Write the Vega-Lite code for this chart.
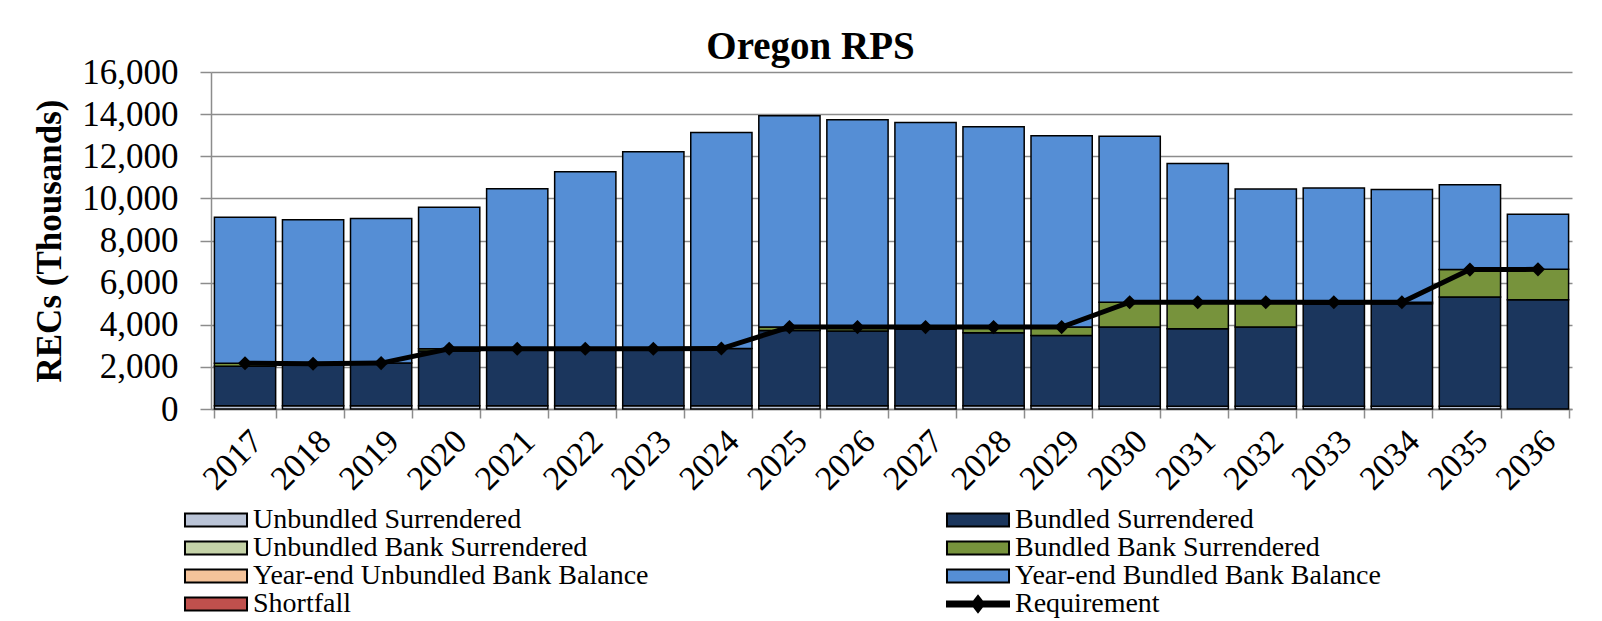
{
  "$schema": "https://vega.github.io/schema/vega-lite/v6.json",
  "width": 1361,
  "height": 337,
  "autosize": {"type": "none"},
  "padding": {"left": 211, "top": 72, "right": 30, "bottom": 212},
  "background": "white",
  "config": {"font": "Liberation Serif", "view": {"stroke": null}},
  "title": {
    "text": "Oregon RPS",
    "font": "Liberation Serif",
    "fontSize": 39,
    "fontWeight": "bold",
    "color": "black",
    "anchor": "middle",
    "frame": "group",
    "dx": -81,
    "dy": 12,
    "offset": 0
  },
  "data": {
    "values": [
      {"year": "2017", "series": "Unbundled Surrendered", "value": 150},
      {"year": "2017", "series": "Bundled Surrendered", "value": 1880},
      {"year": "2017", "series": "Bundled Bank Surrendered", "value": 140},
      {"year": "2017", "series": "Year-end Bundled Bank Balance", "value": 6930},
      {"year": "2017", "series": "Requirement", "value": 2170},
      {"year": "2018", "series": "Unbundled Surrendered", "value": 150},
      {"year": "2018", "series": "Bundled Surrendered", "value": 1930},
      {"year": "2018", "series": "Bundled Bank Surrendered", "value": 70},
      {"year": "2018", "series": "Year-end Bundled Bank Balance", "value": 6840},
      {"year": "2018", "series": "Requirement", "value": 2150},
      {"year": "2019", "series": "Unbundled Surrendered", "value": 150},
      {"year": "2019", "series": "Bundled Surrendered", "value": 2030},
      {"year": "2019", "series": "Year-end Bundled Bank Balance", "value": 6870},
      {"year": "2019", "series": "Requirement", "value": 2180},
      {"year": "2020", "series": "Unbundled Surrendered", "value": 150},
      {"year": "2020", "series": "Bundled Surrendered", "value": 2600},
      {"year": "2020", "series": "Bundled Bank Surrendered", "value": 110},
      {"year": "2020", "series": "Year-end Bundled Bank Balance", "value": 6720},
      {"year": "2020", "series": "Requirement", "value": 2860},
      {"year": "2021", "series": "Unbundled Surrendered", "value": 150},
      {"year": "2021", "series": "Bundled Surrendered", "value": 2660},
      {"year": "2021", "series": "Bundled Bank Surrendered", "value": 50},
      {"year": "2021", "series": "Year-end Bundled Bank Balance", "value": 7600},
      {"year": "2021", "series": "Requirement", "value": 2860},
      {"year": "2022", "series": "Unbundled Surrendered", "value": 150},
      {"year": "2022", "series": "Bundled Surrendered", "value": 2650},
      {"year": "2022", "series": "Bundled Bank Surrendered", "value": 60},
      {"year": "2022", "series": "Year-end Bundled Bank Balance", "value": 8400},
      {"year": "2022", "series": "Requirement", "value": 2860},
      {"year": "2023", "series": "Unbundled Surrendered", "value": 150},
      {"year": "2023", "series": "Bundled Surrendered", "value": 2650},
      {"year": "2023", "series": "Bundled Bank Surrendered", "value": 60},
      {"year": "2023", "series": "Year-end Bundled Bank Balance", "value": 9350},
      {"year": "2023", "series": "Requirement", "value": 2860},
      {"year": "2024", "series": "Unbundled Surrendered", "value": 150},
      {"year": "2024", "series": "Bundled Surrendered", "value": 2720},
      {"year": "2024", "series": "Year-end Bundled Bank Balance", "value": 10260},
      {"year": "2024", "series": "Requirement", "value": 2870},
      {"year": "2025", "series": "Unbundled Surrendered", "value": 150},
      {"year": "2025", "series": "Bundled Surrendered", "value": 3580},
      {"year": "2025", "series": "Bundled Bank Surrendered", "value": 160},
      {"year": "2025", "series": "Year-end Bundled Bank Balance", "value": 10030},
      {"year": "2025", "series": "Requirement", "value": 3890},
      {"year": "2026", "series": "Unbundled Surrendered", "value": 150},
      {"year": "2026", "series": "Bundled Surrendered", "value": 3550},
      {"year": "2026", "series": "Bundled Bank Surrendered", "value": 190},
      {"year": "2026", "series": "Year-end Bundled Bank Balance", "value": 9840},
      {"year": "2026", "series": "Requirement", "value": 3890},
      {"year": "2027", "series": "Unbundled Surrendered", "value": 150},
      {"year": "2027", "series": "Bundled Surrendered", "value": 3650},
      {"year": "2027", "series": "Bundled Bank Surrendered", "value": 90},
      {"year": "2027", "series": "Year-end Bundled Bank Balance", "value": 9710},
      {"year": "2027", "series": "Requirement", "value": 3890},
      {"year": "2028", "series": "Unbundled Surrendered", "value": 150},
      {"year": "2028", "series": "Bundled Surrendered", "value": 3470},
      {"year": "2028", "series": "Bundled Bank Surrendered", "value": 270},
      {"year": "2028", "series": "Year-end Bundled Bank Balance", "value": 9510},
      {"year": "2028", "series": "Requirement", "value": 3890},
      {"year": "2029", "series": "Unbundled Surrendered", "value": 150},
      {"year": "2029", "series": "Bundled Surrendered", "value": 3340},
      {"year": "2029", "series": "Bundled Bank Surrendered", "value": 400},
      {"year": "2029", "series": "Year-end Bundled Bank Balance", "value": 9080},
      {"year": "2029", "series": "Requirement", "value": 3890},
      {"year": "2030", "series": "Unbundled Surrendered", "value": 130},
      {"year": "2030", "series": "Bundled Surrendered", "value": 3760},
      {"year": "2030", "series": "Bundled Bank Surrendered", "value": 1180},
      {"year": "2030", "series": "Year-end Bundled Bank Balance", "value": 7880},
      {"year": "2030", "series": "Requirement", "value": 5070},
      {"year": "2031", "series": "Unbundled Surrendered", "value": 130},
      {"year": "2031", "series": "Bundled Surrendered", "value": 3680},
      {"year": "2031", "series": "Bundled Bank Surrendered", "value": 1260},
      {"year": "2031", "series": "Year-end Bundled Bank Balance", "value": 6590},
      {"year": "2031", "series": "Requirement", "value": 5070},
      {"year": "2032", "series": "Unbundled Surrendered", "value": 130},
      {"year": "2032", "series": "Bundled Surrendered", "value": 3760},
      {"year": "2032", "series": "Bundled Bank Surrendered", "value": 1180},
      {"year": "2032", "series": "Year-end Bundled Bank Balance", "value": 5380},
      {"year": "2032", "series": "Requirement", "value": 5070},
      {"year": "2033", "series": "Unbundled Surrendered", "value": 130},
      {"year": "2033", "series": "Bundled Surrendered", "value": 4860},
      {"year": "2033", "series": "Bundled Bank Surrendered", "value": 80},
      {"year": "2033", "series": "Year-end Bundled Bank Balance", "value": 5420},
      {"year": "2033", "series": "Requirement", "value": 5070},
      {"year": "2034", "series": "Unbundled Surrendered", "value": 130},
      {"year": "2034", "series": "Bundled Surrendered", "value": 4870},
      {"year": "2034", "series": "Bundled Bank Surrendered", "value": 70},
      {"year": "2034", "series": "Year-end Bundled Bank Balance", "value": 5350},
      {"year": "2034", "series": "Requirement", "value": 5070},
      {"year": "2035", "series": "Unbundled Surrendered", "value": 130},
      {"year": "2035", "series": "Bundled Surrendered", "value": 5190},
      {"year": "2035", "series": "Bundled Bank Surrendered", "value": 1300},
      {"year": "2035", "series": "Year-end Bundled Bank Balance", "value": 4030},
      {"year": "2035", "series": "Requirement", "value": 6620},
      {"year": "2036", "series": "Bundled Surrendered", "value": 5190},
      {"year": "2036", "series": "Bundled Bank Surrendered", "value": 1440},
      {"year": "2036", "series": "Year-end Bundled Bank Balance", "value": 2620},
      {"year": "2036", "series": "Requirement", "value": 6630}
    ]
  },
  "encoding": {
    "x": {
      "field": "year",
      "type": "ordinal",
      "scale": {"paddingInner": 0.1, "paddingOuter": 0.05},
      "axis": {
        "title": null,
        "labelAngle": -45,
        "labelFont": "Liberation Serif",
        "labelFontSize": 34,
        "labelColor": "black",
        "labelPadding": 6,
        "tickBand": "extent",
        "tickSize": 9,
        "tickColor": "#8c8c8c",
        "tickWidth": 1.5,
        "domainColor": "#8c8c8c",
        "domainWidth": 1.5,
        "grid": false
      }
    },
    "y": {
      "field": "value",
      "type": "quantitative",
      "scale": {"domain": [0, 16000], "nice": false},
      "axis": {
        "title": "RECs (Thousands)",
        "titleFont": "Liberation Serif",
        "titleFontSize": 35,
        "titleFontWeight": "bold",
        "titleColor": "black",
        "titlePadding": 14,
        "values": [0, 2000, 4000, 6000, 8000, 10000, 12000, 14000, 16000],
        "format": ",.0f",
        "labelFont": "Liberation Serif",
        "labelFontSize": 35,
        "labelColor": "black",
        "labelPadding": 22,
        "tickSize": 11,
        "tickColor": "#8c8c8c",
        "tickWidth": 1.5,
        "domainColor": "#8c8c8c",
        "domainWidth": 1.5,
        "gridColor": "#8c8c8c",
        "gridWidth": 1.5
      }
    }
  },
  "layer": [
    {
      "transform": [
        {"filter": "datum.series !== 'Requirement'"},
        {"calculate": "indexof(['Unbundled Surrendered','Bundled Surrendered','Bundled Bank Surrendered','Year-end Bundled Bank Balance'], datum.series)", "as": "ord"}
      ],
      "mark": {"type": "bar", "stroke": "black", "strokeWidth": 1.5},
      "encoding": {
        "y": {"field": "value", "type": "quantitative", "stack": "zero"},
        "order": {"field": "ord", "type": "quantitative"},
        "color": {
          "field": "series",
          "type": "nominal",
          "scale": {
            "domain": ["Unbundled Surrendered", "Unbundled Bank Surrendered", "Year-end Unbundled Bank Balance", "Shortfall", "Bundled Surrendered", "Bundled Bank Surrendered", "Year-end Bundled Bank Balance", "Requirement"],
            "range": ["#bac4d7", "#c5d3a8", "#f4c39a", "#c0504d", "#1b365d", "#77933c", "#558ed5", "#000000"]
          },
          "legend": {
            "title": null,
            "orient": "none",
            "legendX": -9,
            "legendY": 434,
            "columns": 2,
            "padding": 0,
            "symbolSize": 196,
            "symbolStrokeColor": "black",
            "symbolStrokeWidth": 2,
            "labelFont": "Liberation Serif",
            "labelFontSize": 28,
            "labelColor": "black",
            "labelLimit": 700,
            "labelOffset": 23,
            "columnPadding": 293,
            "rowPadding": 0,
            "encode": {
              "symbols": {
                "update": {
                  "shape": {"signal": "datum.value === 'Requirement' ? 'M-4.43,-0.36L4.43,-0.36L4.43,0.36L-4.43,0.36Z M0,-1.15L0.9,0L0,1.15L-0.9,0Z' : 'M-4.43,-0.93L4.43,-0.93L4.43,0.93L-4.43,0.93Z'"},
                  "stroke": {"value": "black"},
                  "strokeWidth": {"value": 2},
                  "opacity": {"value": 1},
                  "fillOpacity": {"value": 1}
                }
              }
            }
          }
        }
      }
    },
    {
      "transform": [{"filter": "datum.series === 'Requirement'"}],
      "mark": {"type": "line", "color": "black", "strokeWidth": 5},
      "encoding": {}
    },
    {
      "transform": [{"filter": "datum.series === 'Requirement'"}],
      "mark": {"type": "point", "shape": "diamond", "filled": true, "color": "black", "opacity": 1, "size": 200},
      "encoding": {}
    }
  ]
}
